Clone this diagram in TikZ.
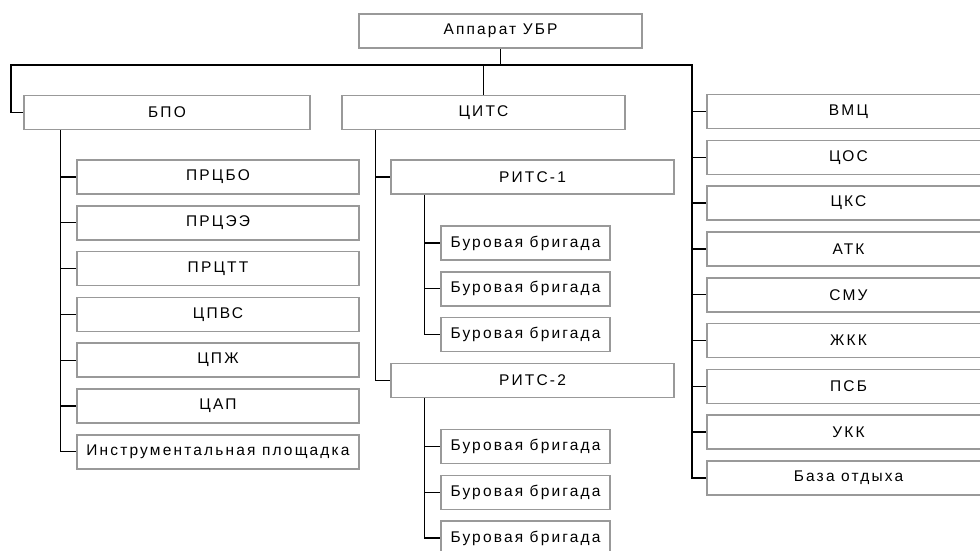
\documentclass[tikz,border=0pt]{standalone}
\usepackage{fontspec}
\setmainfont[LetterSpace=14]{Liberation Sans}
\usetikzlibrary{positioning}

\tikzset{
  unit/.style={draw=black!40,line width=1.6pt,fill=white,inner sep=0pt,
    minimum height=34pt,font=\fontsize{15.5}{17}\selectfont,text=black},
  wide/.style={unit,minimum width=283pt},
  crew/.style={unit,minimum width=169pt},
  link/.style={draw=black,line width=1.3pt,line cap=butt}
}

\begin{document}
\begin{tikzpicture}[line join=miter,x=1pt,y=-1pt]
      \useasboundingbox (0,0) rectangle (980,551);
      \clip (0,0) rectangle (980,551);
      % верхний уровень
      \node[wide] (ubr) at (500.5,31) {Аппарат УБР};
      \node[unit,minimum width=286pt] (bpo) at (167,112.5) {БПО};
      \node[wide] (cits) at (483.5,112.5) {ЦИТС};
      % БПО
      \node[wide,minimum width=282pt] (prcbo) at (218,177) {ПРЦБО};
      \node[wide,minimum width=282pt] (prcee) at (218,222.8) {ПРЦЭЭ};
      \node[wide,minimum width=282pt] (prctt) at (218,268.6) {ПРЦТТ};
      \node[wide,minimum width=282pt] (cpvs) at (218,314.4) {ЦПВС};
      \node[wide,minimum width=282pt] (cpzh) at (218,360.2) {ЦПЖ};
      \node[wide,minimum width=282pt] (cap) at (218,406) {ЦАП};
      \node[wide,minimum width=282pt] (instr) at (218,451.8) {Инструментальная площадка};
      % ЦИТС
      \node[wide] (ritsA) at (532.5,177) {РИТС-1};
      \node[wide] (ritsB) at (532.5,380.5) {РИТС-2};
      \node[crew] (brA1) at (525.5,243) {Буровая бригада};
      \node[crew] (brA2) at (525.5,288.8) {Буровая бригада};
      \node[crew] (brA3) at (525.5,334.6) {Буровая бригада};
      \node[crew] (brB1) at (525.5,446.5) {Буровая бригада};
      \node[crew] (brB2) at (525.5,492.3) {Буровая бригада};
      \node[crew] (brB3) at (525.5,538.1) {Буровая бригада};
      % правая колонка
      \node[wide] (vmc) at (848.5,111.5) {ВМЦ};
      \node[wide] (cos) at (848.5,157.3) {ЦОС};
      \node[wide] (cks) at (848.5,203.1) {ЦКС};
      \node[wide] (atk) at (848.5,248.9) {АТК};
      \node[wide] (smu) at (848.5,294.7) {СМУ};
      \node[wide] (zhkk) at (848.5,340.5) {ЖКК};
      \node[wide] (psb) at (848.5,386.3) {ПСБ};
      \node[wide] (ukk) at (848.5,432.1) {УКК};
      \node[wide] (baza) at (848.5,477.9) {База отдыха};
      % связи
      \coordinate (busL) at (11,65);
      \coordinate (busR) at (692,65);
      \draw[link] (ubr.south) -- (ubr.south |- busL);
      \draw[link] (bpo.west) -| (busL) -- (busR) |- (baza.west);
      \draw[link] (cits.north) -- (cits.north |- busL);
      \foreach \n in {vmc,cos,cks,atk,smu,zhkk,psb,ukk}
        \draw[link] (busR |- \n.west) -- (\n.west);
      \draw[link] ([xshift=37pt]bpo.south west) |- (instr.west);
      \foreach \n in {prcbo,prcee,prctt,cpvs,cpzh,cap}
        \draw[link] ([xshift=37pt]bpo.south west |- \n.west) -- (\n.west);
      \draw[link] ([xshift=34pt]cits.south west) |- (ritsB.west);
      \draw[link] ([xshift=34pt]cits.south west |- ritsA.west) -- (ritsA.west);
      \draw[link] ([xshift=34pt]ritsA.south west) |- (brA3.west);
      \foreach \n in {brA1,brA2}
        \draw[link] ([xshift=34pt]ritsA.south west |- \n.west) -- (\n.west);
      \draw[link] ([xshift=34pt]ritsB.south west) |- (brB3.west);
      \foreach \n in {brB1,brB2}
        \draw[link] ([xshift=34pt]ritsB.south west |- \n.west) -- (\n.west);
    \end{tikzpicture}
\end{document}
